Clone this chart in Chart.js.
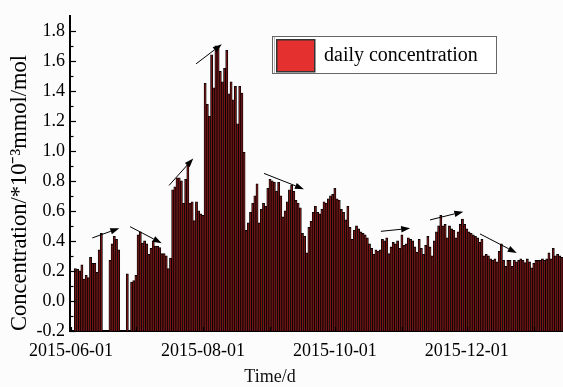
<!DOCTYPE html>
<html>
<head>
<meta charset="utf-8">
<script src="https://cdn.jsdelivr.net/npm/chart.js@4.4.1/dist/chart.umd.min.js"></script>
<style>
  html, body { margin: 0; padding: 0; background: #fcfcfc; }
  #wrap { width: 563px; height: 387px; }
</style>
</head>
<body>
<div id="wrap"><canvas id="conc" width="563" height="387"></canvas></div>
<script>
// daily values, 2015-06-01 .. 2016-01-14 (null = no measurement)
var startDay = '2015-06-01';
var dailyConcentration = [
    // June
    null, null, 0.215, 0.21, 0.20, 0.24, 0.145, 0.17, 0.155, 0.29,
    0.25, 0.25, 0.19, 0.34, 0.45, null, null, null, 0.27, 0.38,
    0.43, 0.41, 0.34, null, null, null, 0.18, null, 0.125, 0.135,
    // July
    0.17, 0.44, 0.46, 0.385, 0.40, 0.38, 0.31, 0.35, 0.40, 0.365,
    0.365, 0.355, 0.315, 0.315, 0.30, 0.215, 0.285, 0.74, 0.76, 0.82,
    0.82, 0.80, 0.65, 0.81, 0.92, 0.65, 0.66, 0.535, 0.66, 0.60,
    0.58,
    // August
    0.57, 1.45, 1.31, 1.23, 1.64, 1.42, 1.70, 1.69, 1.53,
    1.46, 1.55, 1.67, 1.38, 1.46, 1.34, 1.43, 1.18, 1.43, 1.385,
    0.99, 0.47, 0.52, 0.59, 0.65, 0.70, 0.78, 0.52, 0.61, 0.65,
    0.63, 0.75,
    // September
    0.81, 0.80, 0.79, 0.73, 0.79, 0.70, 0.56, 0.60,
    0.66, 0.74, 0.77, 0.73, 0.67, 0.65, 0.62, 0.45, 0.43, 0.32,
    0.49, 0.53, 0.59, 0.63, 0.59, 0.58, 0.61, 0.66, 0.65, 0.68,
    0.70, 0.71,
    // October
    0.75, 0.68, 0.67, 0.61, 0.59, 0.54, 0.63, 0.49,
    0.41, 0.47, 0.50, 0.48, 0.46, 0.45, 0.44, 0.42, 0.38, 0.35,
    0.31, 0.34, 0.33, 0.34, 0.41, 0.40, 0.42, 0.315, 0.36, 0.39,
    0.38, 0.40, 0.35,
    // November
    0.44, 0.37, 0.38, 0.42, 0.41, 0.40, 0.36,
    0.325, 0.41, 0.35, 0.31, 0.37, 0.43, 0.36, 0.30, 0.40, 0.46,
    0.50, 0.57, 0.50, 0.51, 0.42, 0.50, 0.48, 0.47, 0.42, 0.46,
    0.51, 0.545, 0.51,
    // December
    0.48, 0.46, 0.45, 0.44, 0.43, 0.42, 0.39,
    0.41, 0.30, 0.31, 0.30, 0.28, 0.27, 0.28, 0.26, 0.33, 0.38,
    0.27, 0.23, 0.27, 0.27, 0.23, 0.27, 0.26, 0.27, 0.28, 0.27,
    0.255, 0.28, 0.26, 0.22,
    // January
    0.25, 0.27, 0.27, 0.27, 0.28, 0.27,
    0.28, 0.32, 0.28, 0.35, 0.30, 0.31, 0.30, 0.29
];
var dateTicks = ['2015-06-01', '2015-08-01', '2015-10-01', '2015-12-01'];
var yTicks = [-0.2, 0.0, 0.2, 0.4, 0.6, 0.8, 1.0, 1.2, 1.4, 1.6, 1.8];
var yMinor = [-0.1, 0.1, 0.3, 0.5, 0.7, 0.9, 1.1, 1.3, 1.5, 1.7];

// trend arrows: [day index from, value from, day index to, value to]
var trendArrows = [
    [9.8, 0.42, 22.3, 0.485],
    [27.3, 0.495, 41.9, 0.385],
    [45.3, 0.77, 56.5, 0.95],
    [57.8, 1.58, 69.7, 1.71],
    [89.2, 0.85, 107.7, 0.745],
    [143.3, 0.464, 156.8, 0.484],
    [166, 0.54, 181.4, 0.595],
    [189.1, 0.447, 206.1, 0.32]
];

function dayLabels(start, n) {
    var out = [];
    var d = new Date(start + 'T00:00:00Z');
    for (var i = 0; i < n; i++) {
        out.push(d.toISOString().slice(0, 10));
        d.setUTCDate(d.getUTCDate() + 1);
    }
    return out;
}
var days = dayLabels(startDay, dailyConcentration.length);

var serif = '"Liberation Serif", "Times New Roman", serif';
var legendRed = '#e53030';
Chart.defaults.font.family = serif;
Chart.defaults.color = '#000';

function drawArrow(ctx, x1, y1, x2, y2) {
    var ang = Math.atan2(y2 - y1, x2 - x1);
    var len = 9, half = 3.2;
    var bx = x2 - len * Math.cos(ang), by = y2 - len * Math.sin(ang);
    ctx.beginPath();
    ctx.moveTo(x1, y1);
    ctx.lineTo(bx, by);
    ctx.stroke();
    ctx.beginPath();
    ctx.moveTo(x2, y2);
    ctx.lineTo(bx + half * Math.sin(ang), by - half * Math.cos(ang));
    ctx.lineTo(bx - half * Math.sin(ang), by + half * Math.cos(ang));
    ctx.closePath();
    ctx.fill();
}

var axisMarks = {
    id: 'axisMarks',
    afterDatasetsDraw: function (chart) {
        var ctx = chart.ctx, xs = chart.scales.x, ys = chart.scales.y, area = chart.chartArea;
        ctx.save();
        ctx.strokeStyle = '#000';
        ctx.fillStyle = '#000';
        ctx.lineWidth = 1.2;
        yTicks.concat(yMinor).forEach(function (v) {
            var py = Math.round(ys.getPixelForValue(v)) + 0.5;
            var len = yTicks.indexOf(v) >= 0 ? 6 : 3.5;
            ctx.beginPath();
            ctx.moveTo(area.left, py);
            ctx.lineTo(area.left + len, py);
            ctx.stroke();
        });
        days.forEach(function (d, i) {
            if (d.slice(8) !== '01') return;
            var px = Math.round(xs.getPixelForValue(i)) + 0.5;
            ctx.beginPath();
            ctx.moveTo(px, area.bottom);
            ctx.lineTo(px, area.bottom - 4);
            ctx.stroke();
        });
        ctx.lineWidth = 1;
        trendArrows.forEach(function (a) {
            drawArrow(ctx, xs.getPixelForValue(a[0]), ys.getPixelForValue(a[1]),
                      xs.getPixelForValue(a[2]), ys.getPixelForValue(a[3]));
        });
        ctx.restore();
    }
};

var legendBox = {
    id: 'legendBox',
    afterDraw: function (chart) {
        var ctx = chart.ctx, ds = chart.data.datasets[0];
        ctx.save();
        ctx.fillStyle = '#fff';
        ctx.fillRect(272, 36, 224, 38);
        ctx.strokeStyle = '#666';
        ctx.lineWidth = 1;
        ctx.strokeRect(272.5, 36.5, 224, 37);
        ctx.strokeStyle = '#bbb';
        ctx.beginPath();
        ctx.moveTo(274.5, 37);
        ctx.lineTo(274.5, 73);
        ctx.stroke();
        ctx.fillStyle = legendRed;
        ctx.fillRect(276, 39, 39, 33);
        ctx.strokeStyle = '#333';
        ctx.lineWidth = 1.5;
        ctx.strokeRect(276.75, 39.75, 38, 32);
        ctx.fillStyle = '#000';
        ctx.font = '20px ' + serif;
        ctx.textBaseline = 'middle';
        ctx.fillText(ds.label, 324, 56);
        ctx.fillStyle = '#111';
        ctx.font = '18px ' + serif;
        ctx.textAlign = 'center';
        ctx.fillText('Time/d', 270, 377);
        ctx.restore();
    }
};

new Chart(document.getElementById('conc'), {
    type: 'bar',
    data: {
        labels: days,
        datasets: [{
            label: 'daily concentration',
            data: dailyConcentration,
            base: -0.2,
            backgroundColor: '#761414',
            borderColor: '#000000',
            borderWidth: 0.8,
            inflateAmount: 0.35,
            barPercentage: 1,
            categoryPercentage: 1
        }]
    },
    options: {
        responsive: false,
        devicePixelRatio: 1,
        animation: false,
        layout: { padding: { top: 13, right: 0, left: 0, bottom: 0 } },
        plugins: {
            legend: { display: false },
            tooltip: { enabled: false }
        },
        scales: {
            x: {
                type: 'category',
                offset: true,
                grid: { display: false, drawTicks: false },
                border: { display: true, color: '#000', width: 2 },
                afterBuildTicks: function (scale) {
                    scale.ticks = dateTicks.map(function (d) { return { value: days.indexOf(d) }; });
                },
                ticks: {
                    autoSkip: false, maxRotation: 0, minRotation: 0, padding: 9,
                    font: { size: 18 },
                    callback: function (v) { return this.getLabelForValue(v); }
                },
                afterFit: function (scale) { scale.height = 56; }
            },
            y: {
                min: -0.2,
                max: 1.9,
                grid: { display: false, drawTicks: false },
                border: { display: true, color: '#000', width: 2 },
                afterBuildTicks: function (scale) {
                    scale.ticks = yTicks.map(function (v) { return { value: v }; });
                },
                ticks: {
                    padding: 5,
                    font: { size: 18 },
                    callback: function (v) { return v.toFixed(1); }
                },
                title: {
                    display: true,
                    align: 'start',
                    text: 'Concentration/*10⁻³mmol/mol',
                    font: { size: 22.5 },
                    padding: { top: 7, bottom: 0 }
                },
                afterFit: function (scale) { scale.width = 70; }
            }
        }
    },
    plugins: [axisMarks, legendBox]
});
</script>
</body>
</html>
